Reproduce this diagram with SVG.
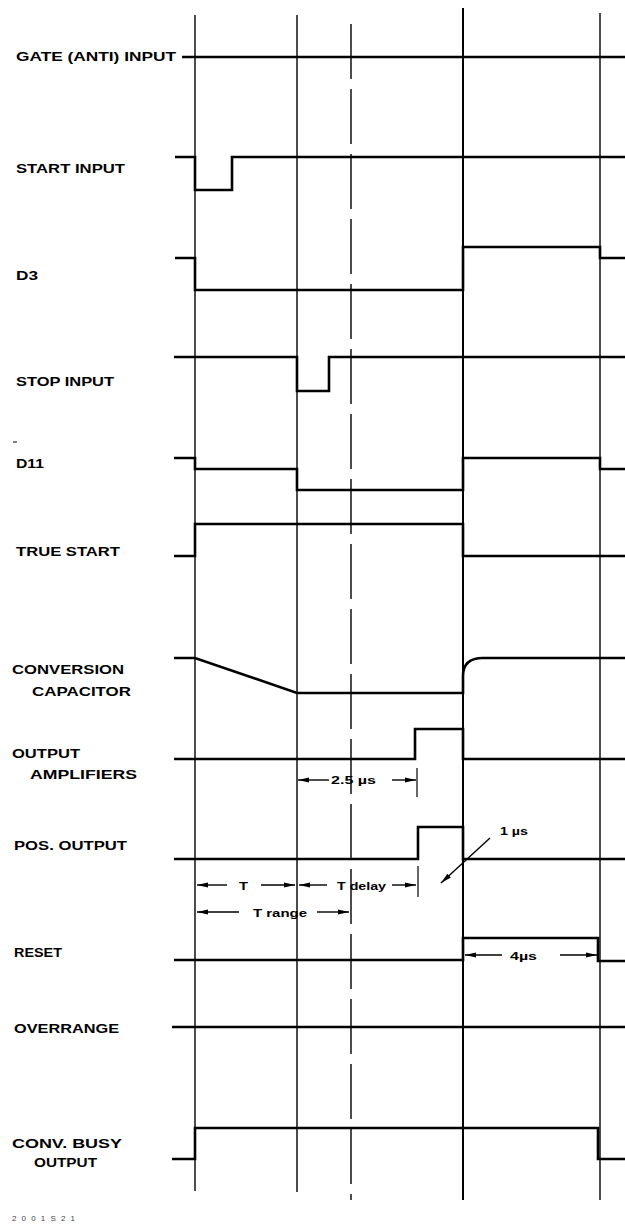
<svg xmlns="http://www.w3.org/2000/svg" width="625" height="1224" viewBox="0 0 625 1224">
<style>
.bg{fill:#fff}
.sig{fill:none;stroke:#000;stroke-width:2.6;stroke-linejoin:miter;stroke-linecap:butt}
.grid{stroke:#000;stroke-width:1.4;fill:none}
.lbl{font-family:"Liberation Sans",Arial,sans-serif;font-weight:bold;font-size:13px;fill:#000}
.dim{font-family:"Liberation Sans",Arial,sans-serif;font-weight:bold;font-size:11px;fill:#000}
.arr{stroke:#000;stroke-width:1.4;fill:none;marker-end:url(#ah)}
.tick{stroke:#000;stroke-width:1.2}
</style>
<defs>
<marker id="ah" markerUnits="userSpaceOnUse" markerWidth="13" markerHeight="8" viewBox="0 -4 13 8" refX="11" refY="0" orient="auto">
<path d="M0,-2.6 L11,0 L0,2.6 z" fill="#000"/>
</marker>
</defs>
<rect class="bg" x="0" y="0" width="625" height="1224"/>

<g id="grid">
<line class="grid" x1="195" y1="15" x2="195" y2="1191"/>
<line class="grid" x1="297" y1="15" x2="297" y2="1192" stroke-width="1.3"/>
<line class="grid" x1="351" y1="24" x2="351" y2="1200" stroke-dasharray="55 10"/>
<line class="grid" x1="463" y1="8" x2="463" y2="1200" style="stroke-width:2"/>
<line class="grid" x1="600" y1="13" x2="600" y2="1200"/>
</g>

<g id="connectors">
<path id="w-gate" class="sig" d="M182,57 H625"/>
<path id="w-start" class="sig" d="M175,157 H195 V190 H232 V157 H625"/>
<path id="w-d3" class="sig" d="M175,258 H195 V290 H463 V247 H600 V258 H625"/>
<path id="w-stop" class="sig" d="M174,357 H297 V391 H329 V357 H625"/>
<path id="w-d11" class="sig" d="M174,458 H195 V469 H297 V490 H463 V458 H600 V469 H625"/>
<path id="w-truestart" class="sig" d="M174,556 H195 V524 H463 V556 H625"/>
<path id="w-convcap" class="sig" d="M174,658 H195 L297,693 H463 V676 Q463,658 483,658 H625"/>
<path id="w-outamp" class="sig" d="M174,759 H415 V729 H463 V759 H625"/>
<path id="w-pos" class="sig" d="M174,859 H418 V827 H463 V859 H625"/>
<path id="w-reset" class="sig" d="M174,960 H463 V938 H598 V961 H625"/>
<path id="w-overrange" class="sig" d="M172,1027 H625"/>
<path id="w-busy" class="sig" d="M172,1159 H195 V1128 H598 V1159 H625"/>
</g>

<g id="labels">
<g id="n-gate"><text class="lbl" x="16" y="61" textLength="160" lengthAdjust="spacingAndGlyphs">GATE (ANTI) INPUT</text></g>
<g id="n-start"><text class="lbl" x="16" y="173" textLength="109" lengthAdjust="spacingAndGlyphs">START INPUT</text></g>
<g id="n-d3"><text class="lbl" x="16" y="280" textLength="22" lengthAdjust="spacingAndGlyphs">D3</text></g>
<g id="n-stop"><text class="lbl" x="16" y="386" textLength="98" lengthAdjust="spacingAndGlyphs">STOP INPUT</text></g>
<g id="n-d11"><line x1="13" y1="442" x2="17" y2="442" stroke="#000" stroke-width="1"/><text class="lbl" x="16" y="468" textLength="28" lengthAdjust="spacingAndGlyphs">D11</text></g>
<g id="n-truestart"><text class="lbl" x="16" y="556" textLength="104" lengthAdjust="spacingAndGlyphs">TRUE START</text></g>
<g id="n-convcap"><text class="lbl" x="12" y="674" textLength="112" lengthAdjust="spacingAndGlyphs">CONVERSION</text><text class="lbl" x="32" y="696" textLength="99" lengthAdjust="spacingAndGlyphs">CAPACITOR</text></g>
<g id="n-outamp"><text class="lbl" x="12" y="758" textLength="68" lengthAdjust="spacingAndGlyphs">OUTPUT</text><text class="lbl" x="30" y="779" textLength="107" lengthAdjust="spacingAndGlyphs">AMPLIFIERS</text></g>
<g id="n-pos"><text class="lbl" x="14" y="850" textLength="113" lengthAdjust="spacingAndGlyphs">POS. OUTPUT</text></g>
<g id="n-reset"><text class="lbl" x="14" y="957" textLength="48" lengthAdjust="spacingAndGlyphs">RESET</text></g>
<g id="n-overrange"><text class="lbl" x="14" y="1033" textLength="105" lengthAdjust="spacingAndGlyphs">OVERRANGE</text></g>
<g id="n-busy"><text class="lbl" x="12" y="1148" textLength="110" lengthAdjust="spacingAndGlyphs">CONV. BUSY</text><text class="lbl" x="34" y="1167" textLength="63" lengthAdjust="spacingAndGlyphs">OUTPUT</text></g>
</g>

<g id="dimensions">
<line class="tick" x1="417" y1="768" x2="417" y2="797"/>
<line class="tick" x1="418" y1="866" x2="418" y2="897"/>
<line class="arr" x1="329" y1="780" x2="298" y2="780"/>
<line class="arr" x1="392" y1="780" x2="416" y2="780"/>
<text class="dim" x="331" y="784" textLength="45" lengthAdjust="spacingAndGlyphs">2.5 µs</text>

<line class="arr" x1="227" y1="885" x2="197" y2="885"/>
<text class="dim" x="239" y="890" textLength="9" lengthAdjust="spacingAndGlyphs">T</text>
<line class="arr" x1="261" y1="885" x2="295" y2="885"/>
<line class="arr" x1="327" y1="885" x2="299" y2="885"/>
<text class="dim" x="337" y="890" textLength="49" lengthAdjust="spacingAndGlyphs">T delay</text>
<line class="arr" x1="392" y1="885" x2="416" y2="885"/>

<line class="arr" x1="239" y1="912" x2="197" y2="912"/>
<text class="dim" x="253" y="917" textLength="54" lengthAdjust="spacingAndGlyphs">T range</text>
<line class="arr" x1="317" y1="912" x2="349" y2="912"/>

<text class="dim" x="500" y="835" textLength="28" lengthAdjust="spacingAndGlyphs">1 µs</text>
<line class="arr" x1="490" y1="838" x2="441" y2="883"/>

<line class="arr" x1="502" y1="955" x2="465" y2="955"/>
<text class="dim" x="510" y="960" textLength="27" lengthAdjust="spacingAndGlyphs">4µs</text>
<line class="arr" x1="560" y1="955" x2="597" y2="955"/>
</g>

<text id="fig-no" x="12" y="1221" font-family="Liberation Sans, Arial, sans-serif" font-size="8" fill="#444" textLength="63" lengthAdjust="spacing">2001S21</text>
</svg>
